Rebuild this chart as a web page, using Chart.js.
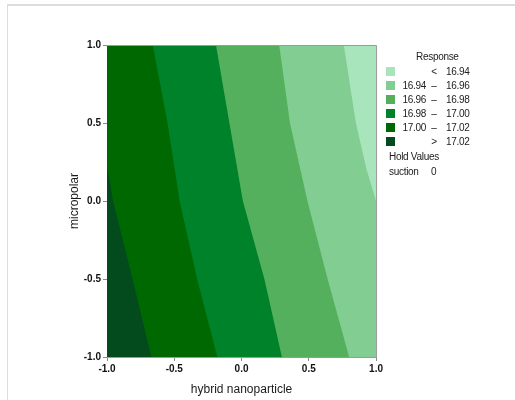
<!DOCTYPE html>
<html>
<head>
<meta charset="utf-8">
<script src="https://cdn.jsdelivr.net/npm/chart.js@4.4.0/dist/chart.umd.min.js"></script>
<style>
  body { margin: 0; width: 515px; height: 400px; overflow: hidden; background: #fff; font-family: "Liberation Sans", Arial, sans-serif; }
  #frame { position: absolute; left: 7px; top: 4px; width: 520px; height: 400px; border-top: 2px solid #dcdcdc; border-left: 1px solid #dcdcdc; }
  #chartBox { position: absolute; left: 0; top: 0; width: 385px; height: 400px; }
  #legend { position: absolute; left: 0; top: 0; width: 515px; height: 400px; font-size: 10px; color: #222; letter-spacing: -0.3px; }
  #legend div { position: absolute; height: 12px; line-height: 12px; white-space: nowrap; }
  .sw { width: 9px; height: 9px !important; }
  .lo { width: 40px; text-align: right; }
  .sym { width: 10px; text-align: center; }
</style>
</head>
<body>
<div id="frame"></div>
<div id="chartBox"><canvas id="contourChart"></canvas></div>
<div id="legend"></div>
<script>
// ========== DATOS ==========
const levels = [16.94, 16.96, 16.98, 17.00, 17.02];
const bandColors = ["#a8e4bc", "#82cd91", "#55b05d", "#00822a", "#006800", "#034b1c"];
const tickValues = [-1, -0.5, 0, 0.5, 1];

// contour lines, x (hybrid nanoparticle) read at y (micropolar)
const contourY = [1, 0.5, 0, -0.5, -1];
const c1702X = [-1, -0.955, -0.81, -0.67];
const c1702Y = [0.23, 0, -0.5, -1];
const c1700X = [-0.66, -0.55, -0.46, -0.33, -0.18];
const c1698X = [-0.19, -0.09, 0.01, 0.17, 0.30];
const c1696X = [0.28, 0.36, 0.49, 0.64, 0.80];
const c1694X = [0.76, 0.85, 0.93, 1];
const c1694Y = [1, 0.5, 0.2, 0];

const holdName = "suction";
const holdValue = 0;

// polygon on the high side of a contour (left / bottom-left)
function highSide(xs, ys) {
  const pts = xs.map((x, i) => ({ x, y: ys[i] }));
  const first = pts[0], last = pts[pts.length - 1];
  if (last.x === 1) pts.push({ x: 1, y: -1 });
  pts.push({ x: -1, y: -1 });
  if (first.y === 1) pts.push({ x: -1, y: 1 });
  return pts;
}

const contours = [
  { pts: highSide(c1702X, c1702Y), color: bandColors[5] },
  { pts: highSide(c1700X, contourY), color: bandColors[4] },
  { pts: highSide(c1698X, contourY), color: bandColors[3] },
  { pts: highSide(c1696X, contourY), color: bandColors[2] },
  { pts: highSide(c1694X, c1694Y), color: bandColors[1] }
];

// ========== FONDO Y MARCO ==========
const plotFrame = {
  id: "plotFrame",
  beforeDatasetsDraw(chart) {
    const { ctx, chartArea: a } = chart;
    ctx.save();
    ctx.fillStyle = bandColors[0];
    ctx.fillRect(a.left, a.top, a.right - a.left, a.bottom - a.top);
    ctx.restore();
  },
  afterDraw(chart) {
    const { ctx, chartArea: a } = chart;
    ctx.save();
    ctx.strokeStyle = "#9a9a9a";
    ctx.lineWidth = 1;
    ctx.beginPath();
    ctx.moveTo(a.left, a.top + 0.5);
    ctx.lineTo(a.right + 0.5, a.top + 0.5);
    ctx.lineTo(a.right + 0.5, a.bottom);
    ctx.stroke();
    ctx.restore();
  }
};

const tickFont = { family: '"Liberation Sans", Arial, sans-serif', size: 10, weight: "bold" };
const titleFont = { family: '"Liberation Sans", Arial, sans-serif', size: 12, weight: "normal" };

const axis = (titleText, titlePadding, fit) => ({
  type: "linear",
  min: -1,
  max: 1,
  afterBuildTicks: s => { s.ticks = tickValues.map(v => ({ value: v })); },
  afterFit: fit,
  ticks: { font: tickFont, color: "#111", padding: 2, callback: v => Number(v).toFixed(1) },
  grid: { drawOnChartArea: false, drawTicks: true, tickLength: 4, color: "#8a8a8a" },
  border: { display: true, color: "#9a9a9a" },
  title: { display: true, text: titleText, font: titleFont, color: "#1a1a1a", padding: titlePadding }
});

new Chart(document.getElementById("contourChart"), {
  type: "scatter",
  data: {
    datasets: contours.map(c => ({
      data: c.pts,
      showLine: true,
      fill: "shape",
      backgroundColor: c.color,
      borderColor: "rgba(0,0,0,0)",
      borderWidth: 0,
      pointRadius: 0,
      tension: 0
    }))
  },
  options: {
    responsive: true,
    maintainAspectRatio: false,
    animation: false,
    layout: { padding: { top: 45, right: 8, left: 0, bottom: 0 } },
    plugins: { legend: { display: false }, tooltip: { enabled: false } },
    scales: {
      x: axis("hybrid nanoparticle", { top: 4, bottom: 3 }, s => { s.height = 43; }),
      y: axis("micropolar", { top: 67, bottom: 0 }, s => { s.width = 107; })
    }
  },
  plugins: [plotFrame]
});

// ========== LEYENDA ==========
const legend = document.getElementById("legend");
const add = (text, left, top, cls, style) => {
  const d = document.createElement("div");
  if (cls) d.className = cls;
  d.style.left = left + "px";
  d.style.top = top + "px";
  if (style) Object.assign(d.style, style);
  d.textContent = text;
  legend.appendChild(d);
  return d;
};

add("Response", 416, 51);
bandColors.forEach((color, i) => {
  const cy = 72 + i * 14;
  add("", 386, cy - 5, "sw", { background: color });
  let lo = "", sym = "", hi = "";
  if (i === 0) { sym = "<"; hi = levels[0].toFixed(2); }
  else if (i === levels.length) { sym = ">"; hi = levels[levels.length - 1].toFixed(2); }
  else { lo = levels[i - 1].toFixed(2); sym = "–"; hi = levels[i].toFixed(2); }
  add(lo, 386, cy - 6, "lo");
  add(sym, 429, cy - 6, "sym");
  add(hi, 446, cy - 6);
});
add("Hold Values", 389, 151);
add(holdName, 389, 166);
add(String(holdValue), 431, 166);
</script>
</body>
</html>
